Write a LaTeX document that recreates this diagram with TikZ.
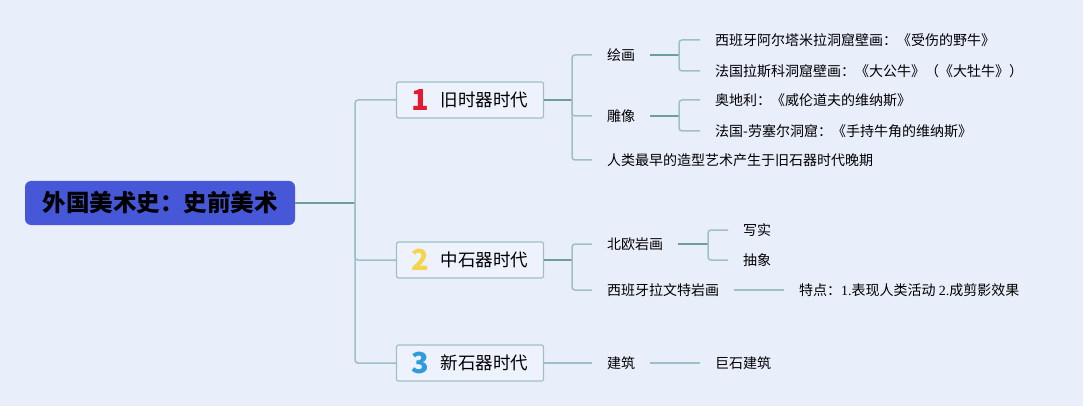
\documentclass[tikz,border=0pt]{standalone}
\usepackage{fontspec}
\usepackage{xcolor}
\setmainfont{Noto Sans CJK SC}
\newfontfamily\latinserif{Liberation Serif}
\definecolor{paper}{HTML}{E9EEFB}
\definecolor{rootblue}{HTML}{4658D8}
\definecolor{boxfill}{HTML}{EEF2FC}
\definecolor{boxline}{HTML}{9FC0C4}
\definecolor{linkdark}{HTML}{6E9E9B}
\definecolor{linklight}{HTML}{9EC0C4}
\definecolor{one}{HTML}{E21A32}
\definecolor{two}{HTML}{F4D44B}
\definecolor{three}{HTML}{2F9BDF}
\newcommand{\eranum}[2]{\raisebox{-4pt}{\fontsize{29}{29}\selectfont\bfseries\color{#1}#2}\hspace{11pt}}
\tikzstyle{root}=[fill=rootblue, rounded corners=6pt, minimum width=270pt, minimum height=44pt, font=\fontsize{23.5}{26}\selectfont\bfseries]
\tikzstyle{era}=[draw=boxline, line width=1.2pt, fill=boxfill, rounded corners=2pt, minimum width=147pt, minimum height=36pt, inner sep=0pt, font=\fontsize{17.5}{20}\selectfont]
\tikzstyle{leaf}=[anchor=west, inner xsep=15pt, inner ysep=0pt, font=\fontsize{14}{16}\selectfont]
\tikzstyle{stub}=[line width=1.5pt, color=linkdark]
\tikzstyle{branch}=[line width=1.5pt, color=linklight, rounded corners=3pt]

\begin{document}
\begin{tikzpicture}[x=1pt,y=-1pt]
  \fill[paper] (0,0) rectangle (1083,406);
  \draw (160,203) node[root] (Root) {外国美术史：史前美术};

  \draw (470,100) node[era] (E1) {\eranum{one}{1}旧时器时代};
  \draw (470,260) node[era] (E2) {\eranum{two}{2}中石器时代};
  \draw (470,363) node[era] (E3) {\eranum{three}{3}新石器时代};

  \draw (592,55) node[leaf] (E1a) {绘画};
  \draw (592,116) node[leaf] (E1b) {雕像};
  \draw (592,160) node[leaf] (E1c) {人类最早的造型艺术产生于旧石器时代晚期};
  \draw (700,40) node[leaf] (E1a1) {西班牙阿尔塔米拉洞窟壁画：《受伤的野牛》};
  \draw (700,71) node[leaf] (E1a2) {法国拉斯科洞窟壁画：《大公牛》（《大牡牛》）};
  \draw (700,100) node[leaf] (E1b1) {奥地利：《威伦道夫的维纳斯》};
  \draw (700,131) node[leaf] (E1b2) {法国-劳塞尔洞窟：《手持牛角的维纳斯》};

  \draw (592,244) node[leaf] (E2a) {北欧岩画};
  \draw (592,290) node[leaf] (E2b) {西班牙拉文特岩画};
  \draw (728,230) node[leaf] (E2a1) {写实};
  \draw (728,260) node[leaf] (E2a2) {抽象};
  \draw (784,290) node[leaf] (E2b1) {特点：{\latinserif 1.}表现人类活动 {\latinserif 2.}成剪影效果};

  \draw (592,363) node[leaf] (E3a) {建筑};
  \draw (700,363) node[leaf] (E3a1) {巨石建筑};

  %% Junctions
  \coordinate (J0) at (355,203);
  \coordinate (J1) at (572,100);
  \coordinate (J1a) at (679,55);
  \coordinate (J1b) at (679,116);
  \coordinate (J2) at (572,260);
  \coordinate (J2a) at (708,244);

  \draw[stub] (Root.east) -- (J0);
  \draw[branch] (J0) |- (E1.west);
  \draw[branch] (J0) |- (E2.west);
  \draw[branch] (J0) |- (E3.west);

  \draw[stub] (E1.east) -- (J1);
  \draw[branch] (J1) |- (E1a.west);
  \draw[branch] (J1) |- (E1b.west);
  \draw[branch] (J1) |- (E1c.west);
  \draw[stub] (E1a.east) -- (J1a);
  \draw[branch] (J1a) |- (E1a1.west);
  \draw[branch] (J1a) |- (E1a2.west);
  \draw[stub] (E1b.east) -- (J1b);
  \draw[branch] (J1b) |- (E1b1.west);
  \draw[branch] (J1b) |- (E1b2.west);

  \draw[stub] (E2.east) -- (J2);
  \draw[branch] (J2) |- (E2a.west);
  \draw[branch] (J2) |- (E2b.west);
  \draw[stub] (E2a.east) -- (J2a);
  \draw[branch] (J2a) |- (E2a1.west);
  \draw[branch] (J2a) |- (E2a2.west);
  \draw[branch] (E2b.east) -- (E2b1.west);

  \draw[branch] (E3.east) -- (E3a.west);
  \draw[branch] (E3a.east) -- (E3a1.west);
\end{tikzpicture}
\end{document}
